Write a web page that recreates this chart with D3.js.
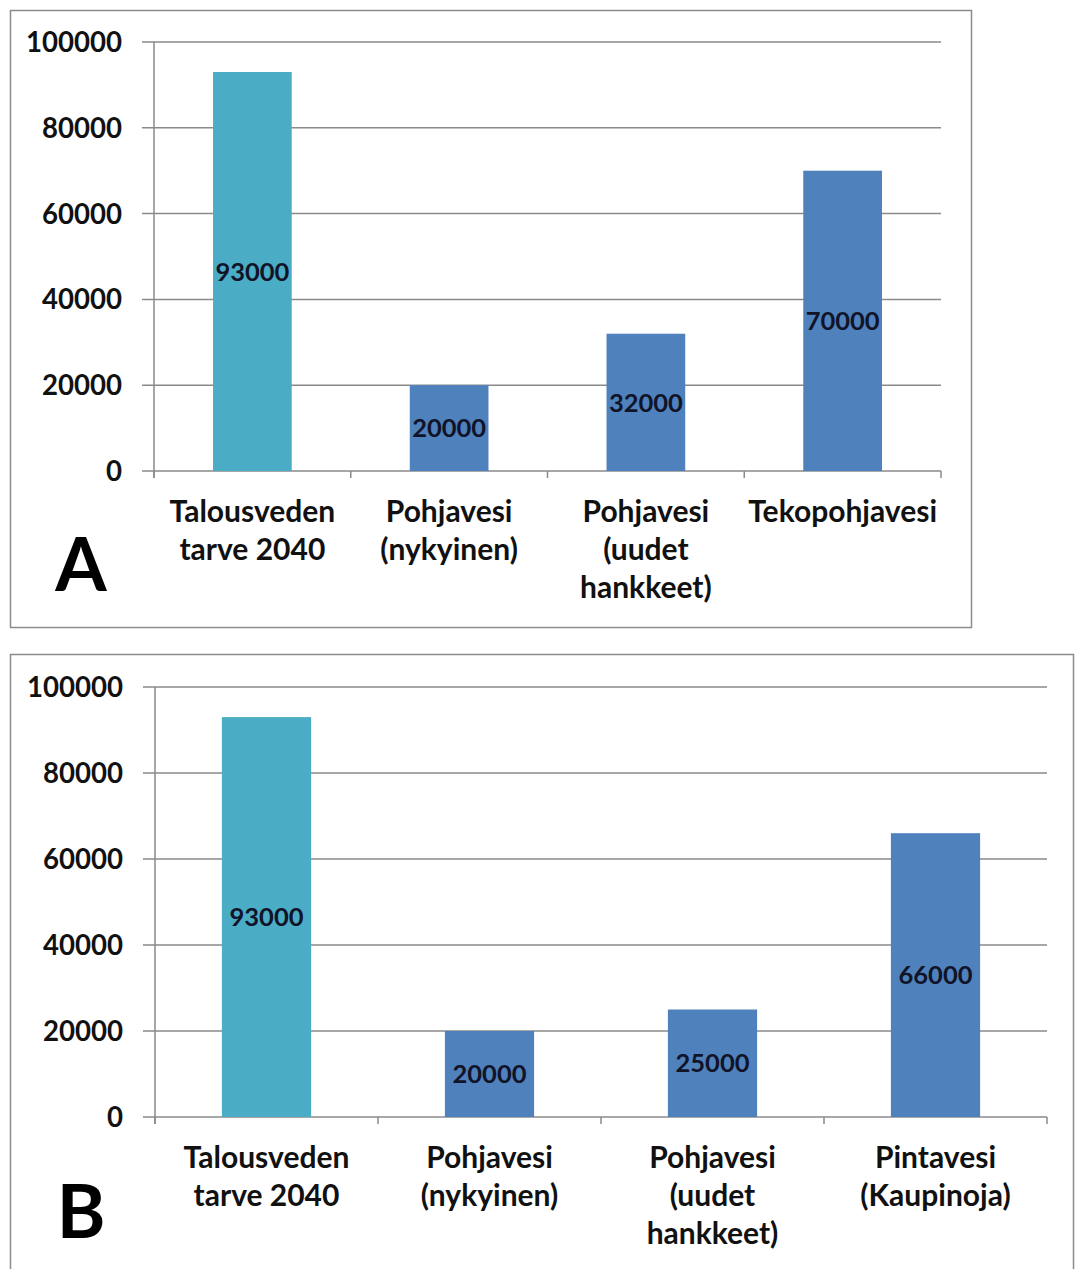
<!DOCTYPE html>
<html>
<head>
<meta charset="utf-8">
<script src="https://cdn.jsdelivr.net/npm/d3@7"></script>
<style>
  html, body { margin: 0; padding: 0; background: #fff; }
  svg { display: block; }
  text { font-family: Lato, "Open Sans", sans-serif; font-weight: 700; }
</style>
</head>
<body>
<svg id="chart" width="1076" height="1269"></svg>
<script>
// Water supply sources vs. household water demand 2040 (m³/d)
const categoriesA = [
  ["Talousveden", "tarve 2040"],
  ["Pohjavesi", "(nykyinen)"],
  ["Pohjavesi", "(uudet", "hankkeet)"],
  ["Tekopohjavesi"]
];
const valuesA = [93000, 20000, 32000, 70000];

const categoriesB = [
  ["Talousveden", "tarve 2040"],
  ["Pohjavesi", "(nykyinen)"],
  ["Pohjavesi", "(uudet", "hankkeet)"],
  ["Pintavesi", "(Kaupinoja)"]
];
const valuesB = [93000, 20000, 25000, 66000];

const yTicks = [0, 20000, 40000, 60000, 80000, 100000];
const panelLetters = ["A", "B"];

const svg = d3.select("#chart");
const demandColor = "#4BACC6";
const supplyColor = "#4F81BD";
const gridColor = "#8a8a8a";

function drawPanel(cfg) {
  const g = svg.append("g");

  g.append("rect")
    .attr("x", cfg.frame[0]).attr("y", cfg.frame[1])
    .attr("width", cfg.frame[2]).attr("height", cfg.frame[3])
    .attr("fill", "#fff").attr("stroke", "#8c8c8c").attr("stroke-width", 1.5);

  const x = d3.scaleBand()
    .domain(d3.range(cfg.categories.length))
    .range([cfg.left, cfg.right])
    .paddingInner(0.6).paddingOuter(0.3);
  const y = d3.scaleLinear().domain([0, 100000]).range([cfg.bottom, cfg.top]);
  const step = x.step();
  const bandStart = i => x(i) - step * 0.3;

  // horizontal gridlines with outer tick marks
  g.selectAll("line.grid").data(yTicks).join("line")
    .attr("class", "grid")
    .attr("x1", cfg.left - 12).attr("x2", cfg.right)
    .attr("y1", d => y(d)).attr("y2", d => y(d))
    .attr("stroke", gridColor).attr("stroke-width", 1.5);

  // value axis line
  g.append("line")
    .attr("x1", cfg.left).attr("x2", cfg.left)
    .attr("y1", y(100000)).attr("y2", y(0) + 7)
    .attr("stroke", gridColor).attr("stroke-width", 1.5);

  // category separators
  g.selectAll("line.ctick").data(d3.range(cfg.categories.length + 1)).join("line")
    .attr("class", "ctick")
    .attr("x1", i => cfg.left + i * step).attr("x2", i => cfg.left + i * step)
    .attr("y1", y(0)).attr("y2", y(0) + 7)
    .attr("stroke", gridColor).attr("stroke-width", 1.5);

  // y tick labels
  g.selectAll("text.ylab").data(yTicks).join("text")
    .attr("class", "ylab")
    .attr("x", cfg.left - 32).attr("y", d => y(d))
    .attr("dy", "0.36em")
    .attr("text-anchor", "end")
    .attr("font-size", 27.6)
    .attr("fill", "#111")
    .text(d => d);

  // bars
  g.selectAll("rect.bar").data(cfg.values).join("rect")
    .attr("class", "bar")
    .attr("x", (d, i) => x(i)).attr("width", x.bandwidth())
    .attr("y", d => y(d)).attr("height", d => y(0) - y(d))
    .attr("fill", (d, i) => i === 0 ? demandColor : supplyColor);

  // value labels centred in bars
  g.selectAll("text.val").data(cfg.values).join("text")
    .attr("class", "val")
    .attr("x", (d, i) => x(i) + x.bandwidth() / 2)
    .attr("y", d => (y(d) + y(0)) / 2)
    .attr("dy", "0.36em")
    .attr("text-anchor", "middle")
    .attr("font-size", 25.5)
    .attr("fill", "#111428")
    .text(d => d);

  // category labels
  const cat = g.selectAll("text.cat").data(cfg.categories).join("text")
    .attr("class", "cat")
    .attr("text-anchor", "middle")
    .attr("font-size", 30)
    .attr("fill", "#111");
  cat.selectAll("tspan").data((lines, i) => lines.map(l => ({ l, i }))).join("tspan")
    .attr("x", d => bandStart(d.i) + step / 2)
    .attr("y", (d, j) => y(0) + 51 + j * 38)
    .text(d => d.l);

  // panel letter
  g.append("text")
    .attr("x", 81).attr("y", cfg.letterY)
    .attr("text-anchor", "middle")
    .attr("font-size", 74)
    .attr("fill", "#000")
    .text(cfg.letter);
}

drawPanel({
  frame: [10.5, 10.5, 961, 617],
  left: 154, right: 941, top: 42, bottom: 471,
  categories: categoriesA, values: valuesA,
  letter: panelLetters[0], letterY: 591
});

drawPanel({
  frame: [10.5, 654.5, 1063, 620],
  left: 155, right: 1047, top: 687, bottom: 1117,
  categories: categoriesB, values: valuesB,
  letter: panelLetters[1], letterY: 1238
});
</script>
</body>
</html>
